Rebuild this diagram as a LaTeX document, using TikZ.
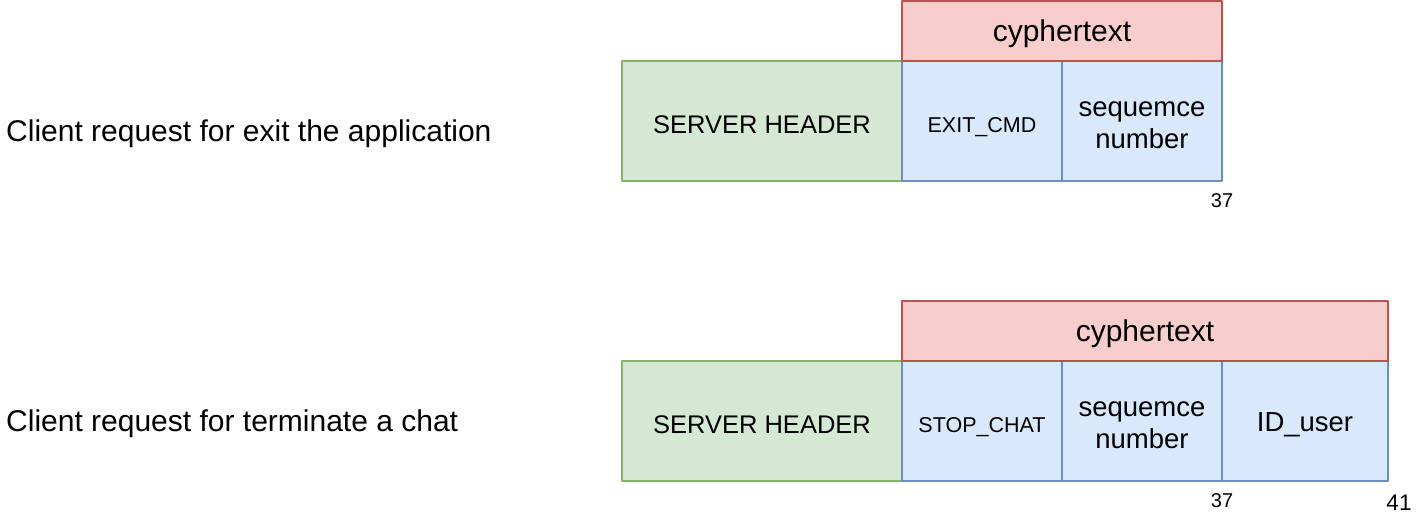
\documentclass[tikz,border=0pt]{standalone}
\usepackage{fontspec}
\setmainfont{Liberation Sans}
\usetikzlibrary{positioning}
\definecolor{hdrfill}{HTML}{D5E8D4}
\definecolor{hdrline}{HTML}{82B366}
\definecolor{cmdfill}{HTML}{DAE8FC}
\definecolor{cmdline}{HTML}{6C8EBF}
\definecolor{ciphfill}{HTML}{F8CECC}
\definecolor{ciphline}{HTML}{B85450}
\tikzset{
	field/.style={draw, line width=2pt, outer sep=0pt, inner sep=0pt, minimum height=120pt, align=center},
	hdr/.style={field, fill=hdrfill, draw=hdrline, minimum width=280pt, text height=24.3pt, font=\fontsize{25.5}{30}\selectfont},
	cmd/.style={field, fill=cmdfill, draw=cmdline, minimum width=160pt, text height=27.5pt, font=\fontsize{21.5}{26}\selectfont},
	seqbox/.style={cmd, text height=54.5pt, font=\fontsize{27.5}{32}\selectfont},
	idbox/.style={seqbox, minimum width=166pt, text height=26pt},
	ciph/.style={field, fill=ciphfill, draw=ciphline, minimum height=60pt, anchor=south west, text height=28pt, font=\fontsize{30}{36}\selectfont},
	caption/.style={anchor=west, inner sep=0pt, font=\fontsize{30}{36}\selectfont},
	num/.style={inner sep=0pt, font=\fontsize{20}{24}\selectfont}
}
\begin{document}
\begin{tikzpicture}[x=1pt, y=1pt, line join=round]
		\useasboundingbox (0,0) rectangle (1428,522);
		% exit the application
		\node[caption] (capA) at (6,388) {Client request for exit the application};
		\node[hdr] (hdrA) at (762,401) {SERVER HEADER};
		\node[cmd, right=0pt of hdrA] (exitA) {EXIT\_CMD};
		\node[seqbox, right=0pt of exitA] (seqA) {sequemce\\number};
		\node[ciph, minimum width=320pt] (ciphA) at (exitA.north west) {cyphertext};
		\node[num] (endA) at ([yshift=-20pt]seqA.south east) {37};
		% terminate a chat
		\node[caption] (capB) at (6,98) {Client request for terminate a chat};
		\node[hdr] (hdrB) at (762,101) {SERVER HEADER};
		\node[cmd, right=0pt of hdrB] (stopB) {STOP\_CHAT};
		\node[seqbox, right=0pt of stopB] (seqB) {sequemce\\number};
		\node[idbox, right=0pt of seqB] (idB) {ID\_user};
		\node[ciph, minimum width=486pt] (ciphB) at (stopB.north west) {cyphertext};
		\node[num] (midB) at ([yshift=-20pt]seqB.south east) {37};
		\node[num, font=\fontsize{22.5}{27}\selectfont] (endB) at ([xshift=11pt, yshift=-22pt]idB.south east) {41};
\end{tikzpicture}
\end{document}
